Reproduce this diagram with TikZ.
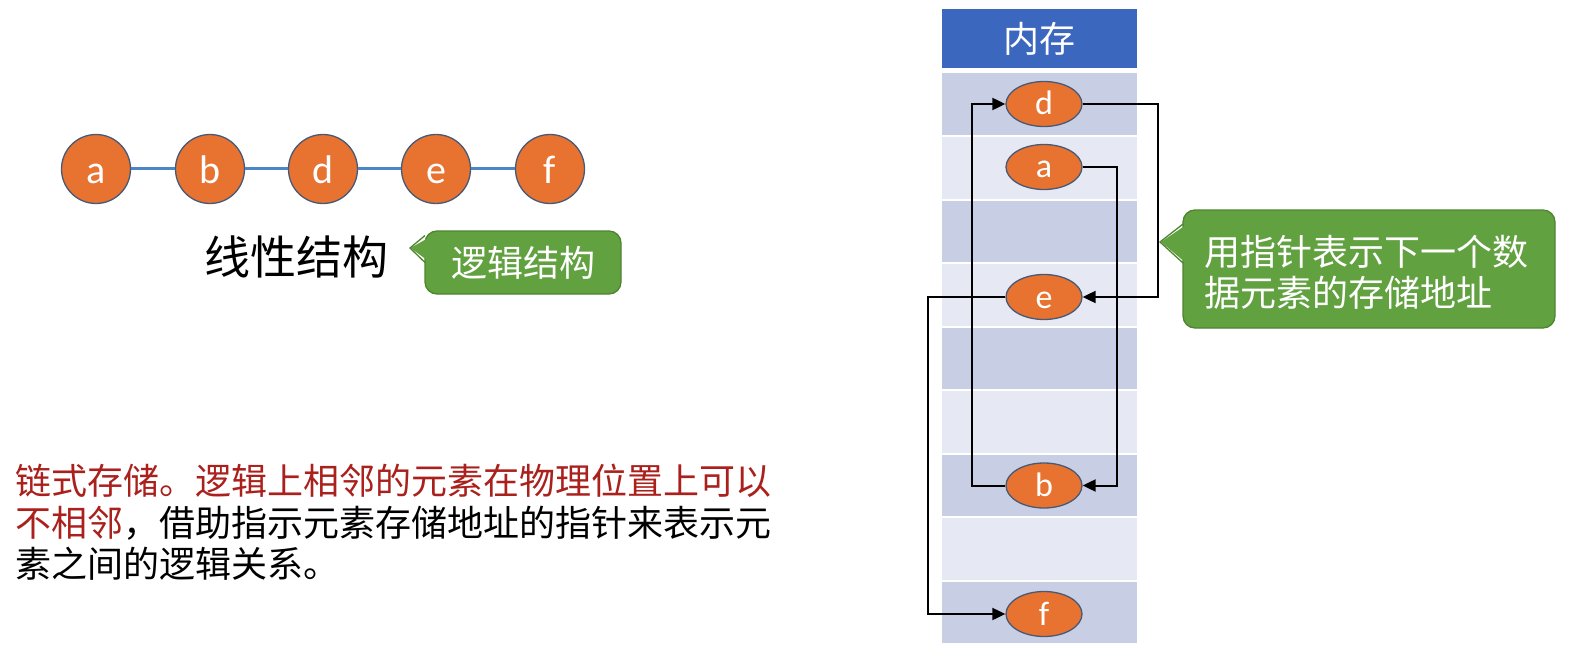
\documentclass[tikz,border=0pt]{standalone}
\usepackage{fontspec}
\setmainfont{Noto Sans CJK SC}
\newfontfamily\lat{Carlito}
\usetikzlibrary{arrows.meta,shapes.geometric}
\definecolor{orng}{RGB}{232,114,48}
\definecolor{obrd}{RGB}{70,90,120}
\definecolor{lblue}{RGB}{76,134,198}
\definecolor{hblue}{RGB}{60,103,190}
\definecolor{rowdk}{RGB}{200,207,229}
\definecolor{rowlt}{RGB}{230,233,243}
\definecolor{gfillc}{RGB}{98,161,64}
\definecolor{gdrawc}{RGB}{78,132,48}
\definecolor{dred}{RGB}{170,32,28}
\begin{document}
\begin{tikzpicture}[x=1pt,y=-1pt,
  lcirc/.style={circle,minimum size=69pt,inner sep=0pt,fill=orng,draw=obrd,line width=1.3pt,text=white,font=\lat\fontsize{40}{40}\selectfont,text height=28pt,text depth=0pt},
  mnode/.style={ellipse,minimum width=76pt,minimum height=45pt,inner sep=0pt,fill=orng,draw=obrd,line width=1.3pt,text=white,font=\lat\fontsize{34}{34}\selectfont,text height=22pt,text depth=0pt},
  gbox/.style={rectangle,rounded corners=12pt,fill=gfillc,draw=gdrawc,line width=1.3pt,text=white,inner sep=0pt},
  gptr/.style={fill=gfillc},
  gedge/.style={draw=gdrawc,line width=1.3pt,line join=miter},
  arr/.style={draw=black,line width=2pt,-{Triangle[length=13pt,width=12pt]}},
  link/.style={draw=lblue,line width=3pt},
  cjk/.style={font=\fontsize{36}{41}\selectfont}
]
\useasboundingbox (0,0) rectangle (1572,650);

% ---------- left: linear structure ----------
\node[lcirc] (la) at (96,169) {a};
\node[lcirc] (lb) at (210,169) {b};
\node[lcirc] (ld) at (323,169) {d};
\node[lcirc] (le) at (436,169) {e};
\node[lcirc] (lf) at (550,169) {f};
\draw[link] (la) -- (lb);
\draw[link] (lb) -- (ld);
\draw[link] (ld) -- (le);
\draw[link] (le) -- (lf);

\node[font=\fontsize{46}{46}\selectfont,anchor=center] (xx) at (296,257) {线性结构};

\node[gbox,minimum width=196pt,minimum height=63pt] (cb1) at (523,262.5) {};
\fill[gptr] (429,237.5) -- (410.5,248) -- (429,261.5) -- cycle;
\coordinate (t1) at (410,248);
\draw[gedge] (425,235.5) -- (t1) -- (425,262.5);
\node[text=white,cjk] (cb1t) at (cb1.center) {逻辑结构};

% ---------- bottom-left text ----------
\node[cjk,anchor=base west,inner sep=0pt,text=dred] (tx1) at (15,494) {链式存储。逻辑上相邻的元素在物理位置上可以};
\node[cjk,anchor=base west,inner sep=0pt] (tx2) at (15,536) {\textcolor{dred}{不相邻}，借助指示元素存储地址的指针来表示元};
\node[cjk,anchor=base west,inner sep=0pt] (tx3) at (15,577) {素之间的逻辑关系。};

% ---------- memory column ----------
\node[rectangle,fill=hblue,minimum width=195pt,minimum height=59pt,inner sep=0pt,text=white,cjk] (hdr) at (1039.5,38.5) {内存};
\foreach \i in {0,2,4,6,8} {
  \fill[rowdk] (942,73.5+63.5*\i) rectangle (1137,135+63.5*\i);
}
\foreach \i in {1,3,5,7} {
  \fill[rowlt] (942,73.5+63.5*\i) rectangle (1137,135+63.5*\i);
}

\node[mnode] (md) at (1044,104) {d};
\node[mnode] (ma) at (1044,167) {a};
\node[mnode] (me) at (1044,297) {e};
\node[mnode] (mb) at (1044,485.5) {b};
\node[mnode] (mf) at (1044,614) {f};

\coordinate (xr1) at (1158,0);
\coordinate (xr2) at (1117,0);
\coordinate (xl1) at (972,0);
\coordinate (xl2) at (928,0);

\draw[arr] (md.east) -- (md.east -| xr1) -- (me.east -| xr1) -- (me.east);
\draw[arr] (ma.east) -- (ma.east -| xr2) -- (mb.east -| xr2) -- (mb.east);
\draw[arr] (mb.west) -- (mb.west -| xl1) -- (md.west -| xl1) -- (md.west);
\draw[arr] (me.west) -- (me.west -| xl2) -- (mf.west -| xl2) -- (mf.west);

% ---------- right callout ----------
\node[gbox,minimum width=372pt,minimum height=118pt] (cb2) at (1369,269) {};
\fill[gptr] (1186,225) -- (1161,242) -- (1186,263) -- cycle;
\coordinate (t2) at (1160,242);
\draw[gedge] (1183,224) -- (t2) -- (1183,263);
\node[text=white,cjk,align=left,anchor=west,inner sep=0pt] (cb2t) at (1204,272) {用指针表示下一个数\\据元素的存储地址};
\end{tikzpicture}
\end{document}
